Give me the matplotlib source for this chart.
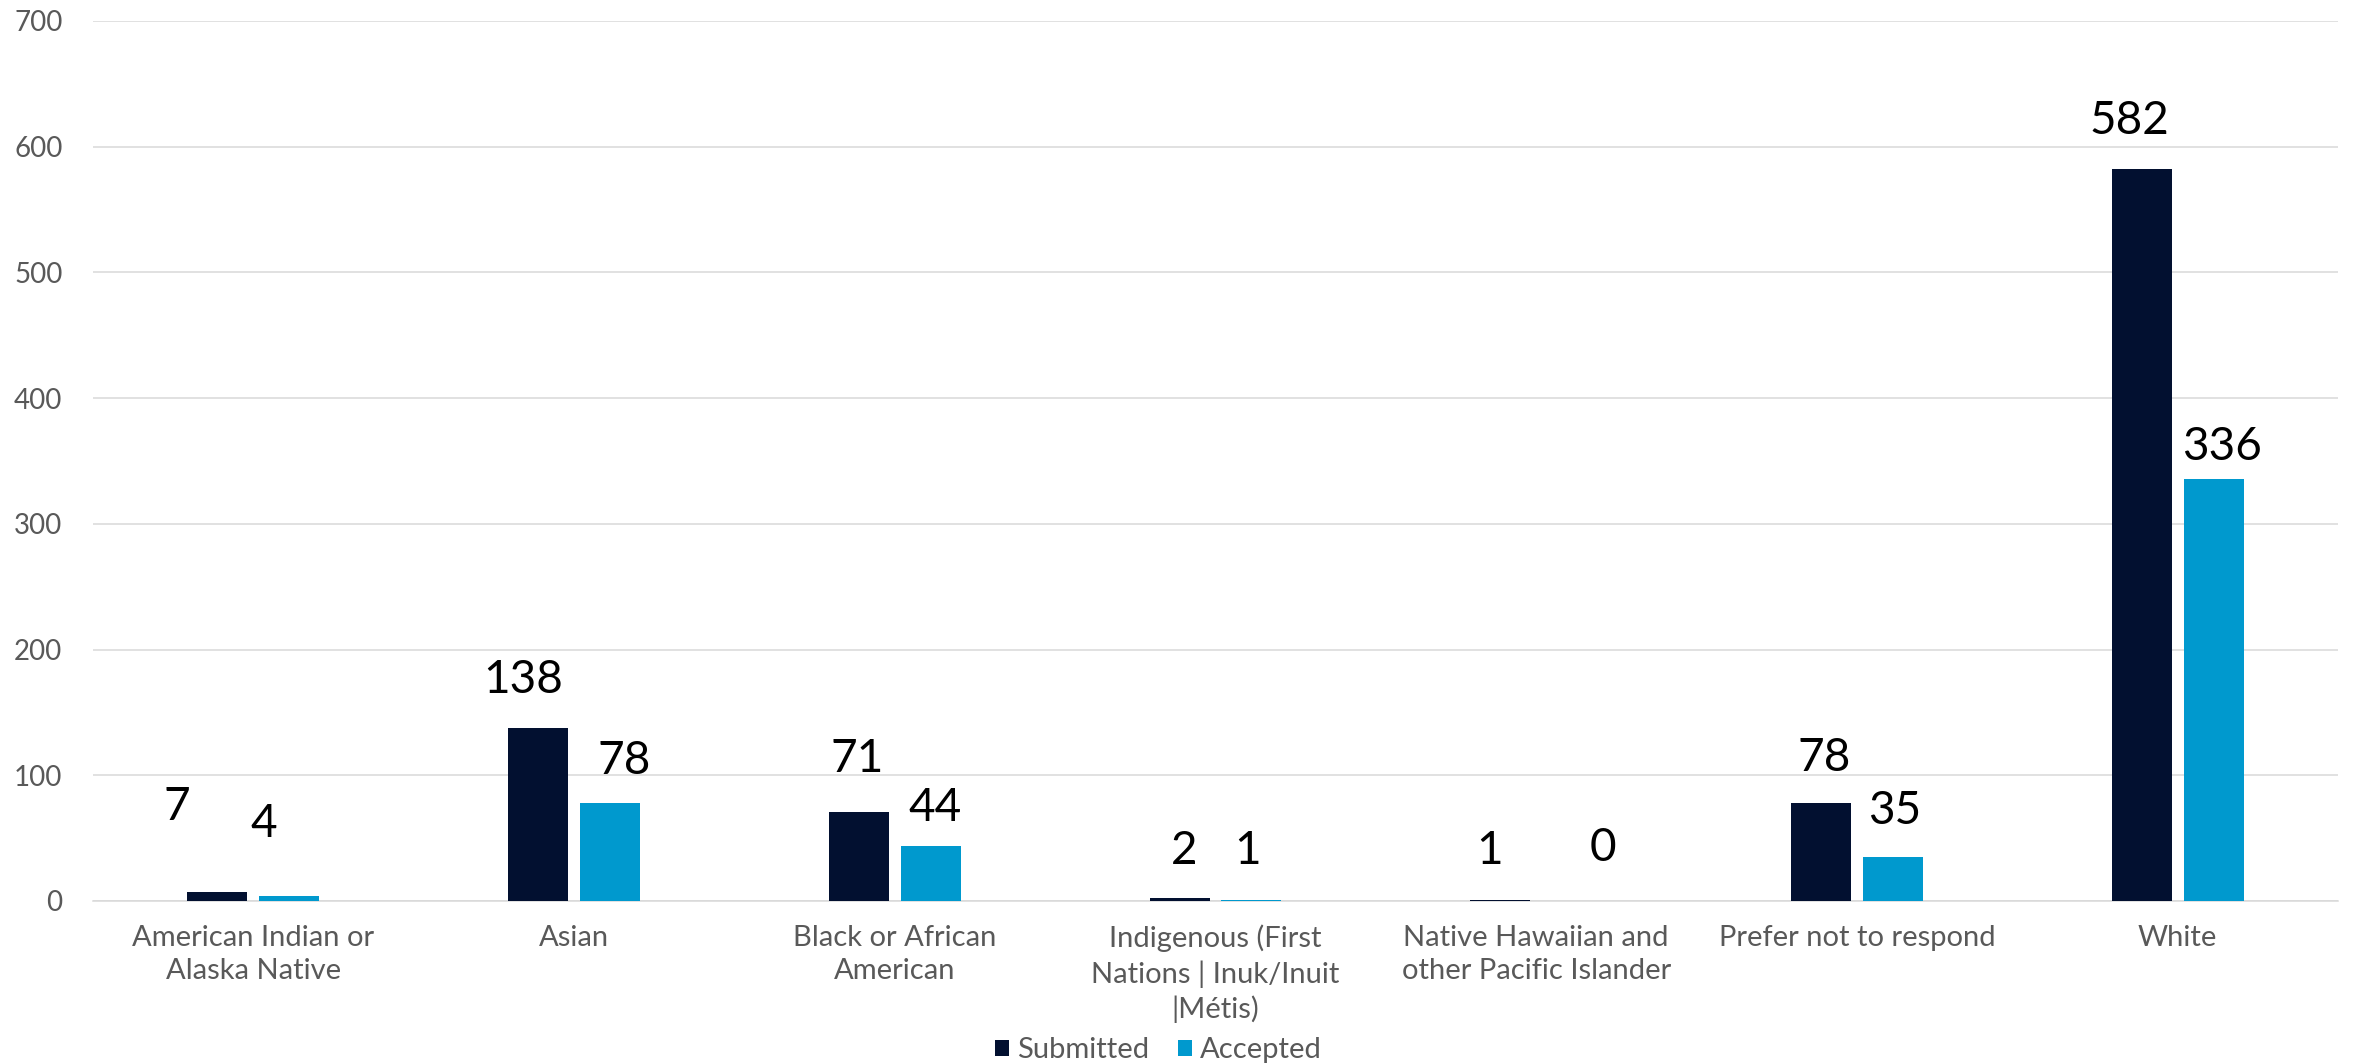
import matplotlib
matplotlib.use("Agg")
import matplotlib.pyplot as plt
import numpy as np

# -- Data --
categories = [
    "American Indian or\nAlaska Native",
    "Asian",
    "Black or African\nAmerican",
    "Indigenous (First\nNations | Inuk/Inuit\n|Métis)",
    "Native Hawaiian and\nother Pacific Islander",
    "Prefer not to respond",
    "White",
]
submitted = [7, 138, 71, 2, 1, 78, 582]
accepted = [4, 78, 44, 1, 0, 35, 336]
series_names = ["Submitted", "Accepted"]

# hand-placed label nudges (points), like the original chart
sub_off = [(-29, 61), (-11, 34), (-1, 38), (3, 34), (-8, 35), (2, 32), (-9, 35)]
acc_off = [(-18, 52), (10, 30), (3, 27), (-3, 35), (22, 38), (1, 33), (6, 23)]

# -- Style --
C_SUB = "#021030"
C_ACC = "#0099CE"
GRID = "#D9D9D9"
TXT = "#595959"
plt.rcParams["font.family"] = ["Lato", "DejaVu Sans"]

fig = plt.figure(figsize=(23.54, 10.64), dpi=100)
ax = fig.add_axes([0.0395, 0.1532, 0.9537, 0.8271])

x = np.arange(len(categories))
w = 0.187
gap = 0.037
b1 = ax.bar(x - (w + gap) / 2, submitted, w, color=C_SUB, label=series_names[0], zorder=3)
b2 = ax.bar(x + (w + gap) / 2, accepted, w, color=C_ACC, label=series_names[1], zorder=3)

for bars, vals, offs in ((b1, submitted, sub_off), (b2, accepted, acc_off)):
    for r, v, (dx, dy) in zip(bars, vals, offs):
        ax.annotate(str(v), (r.get_x() + r.get_width() / 2, v),
                    xytext=(dx, dy), textcoords="offset points",
                    ha="center", va="center", fontsize=33, color="black")

ax.set_xlim(-0.5, len(categories) - 0.5)
ax.set_ylim(0, 700)
ax.set_yticks(range(0, 701, 100))
ax.yaxis.grid(True, color=GRID, linewidth=1.1, zorder=0)
ax.set_axisbelow(True)
for s in ("top", "right", "left"):
    ax.spines[s].set_visible(False)
ax.spines["bottom"].set_color(GRID)
ax.spines["bottom"].set_linewidth(1.1)
ax.tick_params(axis="y", length=0, pad=22, labelsize=20, labelcolor=TXT)
ax.set_xticks(x)
ax.set_xticklabels(categories, fontsize=21, color=TXT, linespacing=1.35)
ax.tick_params(axis="x", length=0, pad=17)

fig.legend(handles=[b1, b2], labels=series_names, loc="center",
           bbox_to_anchor=(0.492, 0.013), ncol=2, frameon=False,
           fontsize=21, handlelength=0.5, handleheight=0.5,
           handletextpad=0.25, columnspacing=1.0, labelcolor=TXT)

fig.savefig("out.png", dpi=100)
